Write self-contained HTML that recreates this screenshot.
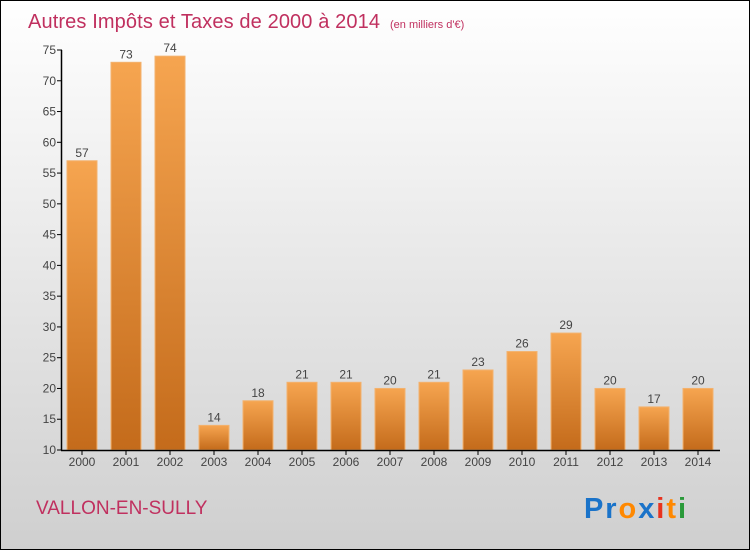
<!DOCTYPE html>
<html><head><meta charset="utf-8"><style>
body{margin:0}
svg{display:block;font-family:"Liberation Sans",sans-serif}
</style></head><body>
<svg width="750" height="550" viewBox="0 0 750 550">
<defs>
<linearGradient id="bg" x1="0" y1="0" x2="0" y2="1"><stop offset="0" stop-color="#ffffff"/><stop offset="1" stop-color="#cfcfcf"/></linearGradient>
<linearGradient id="bar" x1="0" y1="0" x2="0" y2="1"><stop offset="0" stop-color="#f6a550"/><stop offset="1" stop-color="#c46b1b"/></linearGradient>
</defs>
<rect x="0.5" y="0.5" width="749" height="549" fill="url(#bg)" stroke="#000"/>
<text x="28" y="28" font-size="20" fill="#c0305f" textLength="352">Autres Impôts et Taxes de 2000 à 2014</text>
<text x="390" y="28" font-size="11" fill="#c0305f">(en milliers d'€)</text>
<g id="plot"></g>
<text x="36" y="514" font-size="19" fill="#c0305f">VALLON-EN-SULLY</text>
<text x="584" y="518" font-size="29" font-weight="bold" textLength="102"><tspan fill="#1a73c9">Pr</tspan><tspan fill="#ff8800">o</tspan><tspan fill="#1a73c9">x</tspan><tspan fill="#e8321e">i</tspan><tspan fill="#ff8800">t</tspan><tspan fill="#2a9a3a">i</tspan></text>
</svg>
<script>
const years=["2000","2001","2002","2003","2004","2005","2006","2007","2008","2009","2010","2011","2012","2013","2014"];
const values=[57,73,74,14,18,21,21,20,21,23,26,29,20,17,20];
const yTicks=[10,15,20,25,30,35,40,45,50,55,60,65,70,75];
const NS="http://www.w3.org/2000/svg";
const g=document.getElementById('plot');
const y=v=>450-(v-10)*400/65;
const x=i=>82+i*44;
function mk(t,a){const e=document.createElementNS(NS,t);for(const k in a)e.setAttribute(k,a[k]);g.appendChild(e);return e;}
yTicks.forEach(t=>{
 const l=mk('line',{x1:57,x2:62,y1:y(t),y2:y(t),stroke:'#000'});
 
 
 const tx=mk('text',{x:56,y:y(t)+4,'text-anchor':'end','font-size':12,fill:'#444'});tx.textContent=t;
 
 
});
values.forEach((v,i)=>{
 const r=mk('rect',{x:x(i)-15,y:y(v),width:30,height:450-y(v),fill:'url(#bar)',stroke:'#f3b26e','stroke-width':1});
 
 
 const vl=mk('text',{x:x(i),y:y(v)-4,'text-anchor':'middle','font-size':12,fill:'#444'});vl.textContent=v;
 
 
 const tk=mk('line',{x1:x(i),x2:x(i),y1:450,y2:455,stroke:'#000'});
 
 
 const xl=mk('text',{x:x(i),y:466,'text-anchor':'middle','font-size':12,fill:'#444'});xl.textContent=years[i];
 
 
});
const ya=mk('line',{x1:61.5,x2:61.5,y1:y(75),y2:450,stroke:'#000','stroke-width':1.5});


const xa=mk('line',{x1:61,x2:720,y1:450.5,y2:450.5,stroke:'#000','stroke-width':1.5});


</script>
</body></html>
